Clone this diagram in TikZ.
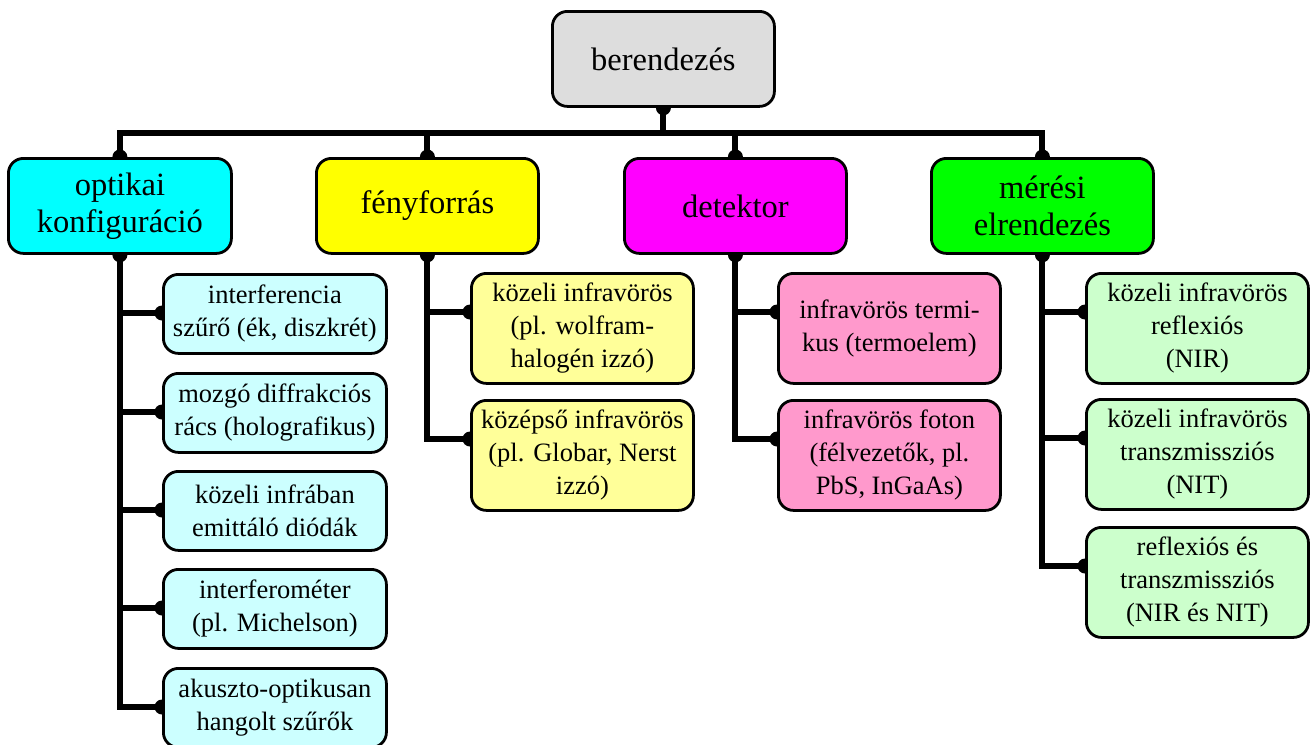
\documentclass[tikz,border=0pt]{standalone}
\usepackage{fontspec}
\setmainfont{Liberation Serif}
\usetikzlibrary{calc}
\pgfdeclarelayer{background}
\pgfsetlayers{background,main}
\definecolor{topgray}{HTML}{DDDDDD}
\definecolor{ccyan}{HTML}{00FFFF}
\definecolor{cyellow}{HTML}{FFFF00}
\definecolor{cmagenta}{HTML}{FF00FF}
\definecolor{cgreen}{HTML}{00FF00}
\definecolor{lcyan}{HTML}{CCFFFF}
\definecolor{lyellow}{HTML}{FFFF99}
\definecolor{lpink}{HTML}{FF99CC}
\definecolor{lgreen}{HTML}{CCFFCC}
\tikzset{
  box/.style={draw, line width=2.8pt, rounded corners=15pt, align=center, inner sep=0pt, anchor=north west},
  catbox/.style={box, minimum width=222pt, minimum height=95pt, font=\fontsize{32.5}{37}\selectfont},
  leafc/.style={box, fill=lcyan, minimum width=223pt, minimum height=79pt, font=\fontsize{26.5}{33}\selectfont},
  leafw/.style={box, minimum width=222pt, minimum height=110pt, font=\fontsize{26.5}{33}\selectfont},
  conn/.style={line width=6pt}
}
\newcommand{\joindot}[1]{\fill #1 circle (7.5pt);}
\begin{document}
\begin{tikzpicture}[x=1pt,y=-1pt]
\useasboundingbox (0,0) rectangle (1311,744);
% top
\node[catbox, fill=topgray] (top) at (551,10) {berendezés};
% categories
\node[catbox, fill=ccyan, minimum width=223pt] (opt) at (7,157) {optikai\\konfiguráció};
\node[catbox, fill=cyellow] (fen) at (315,157) {fényforrás};
\node[catbox, fill=cmagenta] (det) at (623,157) {detektor};
\node[catbox, fill=cgreen] (mer) at (930,157) {mérési\\elrendezés};
% cyan leaves
\node[leafc] (o1) at (162,273) {interferencia\\szűrő (ék, diszkrét)};
\node[leafc] (o2) at (162,372) {mozgó diffrakciós\\rács (holografikus)};
\node[leafc] (o3) at (162,470) {közeli infrában\\emittáló diódák};
\node[leafc] (o4) at (162,568) {interferométer\\(pl. Michelson)};
\node[leafc] (o5) at (162,667) {akuszto-optikusan\\hangolt szűrők};
% yellow leaves
\node[leafw, fill=lyellow] (f1) at (470,272) {közeli infravörös\\(pl. wolfram-\\halogén izzó)};
\node[leafw, fill=lyellow] (f2) at (470,399) {középső infravörös\\(pl. Globar, Nerst\\izzó)};
% pink leaves
\node[leafw, fill=lpink] (d1) at (777,272) {infravörös termi-\\kus (termoelem)};
\node[leafw, fill=lpink] (d2) at (777,399) {infravörös foton\\(félvezetők, pl.\\PbS, InGaAs)};
% green leaves
\node[leafw, fill=lgreen] (m1) at (1085,272) {közeli infravörös\\reflexiós\\(NIR)};
\node[leafw, fill=lgreen] (m2) at (1085,398) {közeli infravörös\\transzmissziós\\(NIT)};
\node[leafw, fill=lgreen] (m3) at (1085,526) {reflexiós és\\transzmissziós\\(NIR és NIT)};
% connectors
\begin{pgfonlayer}{background}
\coordinate (bar) at (0,133);
\draw[conn] (top.south) -- (top.south |- bar);
\draw[conn] (opt.north) -- (opt.north |- bar) -- (mer.north |- bar) -- (mer.north);
\draw[conn] (fen.north) -- (fen.north |- bar);
\draw[conn] (det.north) -- (det.north |- bar);
\joindot{(top.south)}
\joindot{(opt.north)}\joindot{(fen.north)}\joindot{(det.north)}\joindot{(mer.north)}
\joindot{(opt.south)}\joindot{(fen.south)}\joindot{(det.south)}\joindot{(mer.south)}
% branches
\foreach \c/\last/\list in {opt/o5/{o1,o2,o3,o4,o5}, fen/f2/{f1,f2}, det/d2/{d1,d2}, mer/m3/{m1,m2,m3}}{
  \coordinate (endp) at ($(\last.north west)+(0,40)$);
  \draw[conn] (\c.south) -- (\c.south |- endp);
  \foreach \l in \list {
    \coordinate (bp) at ($(\l.north west)+(0,40)$);
    \draw[conn] (\c.south |- bp) -- (bp);
    \fill (bp) circle (7.5pt);
  }
  \draw[conn, line cap=rect] (\c.south |- endp) -- (endp);
}
\end{pgfonlayer}
\end{tikzpicture}
\end{document}
